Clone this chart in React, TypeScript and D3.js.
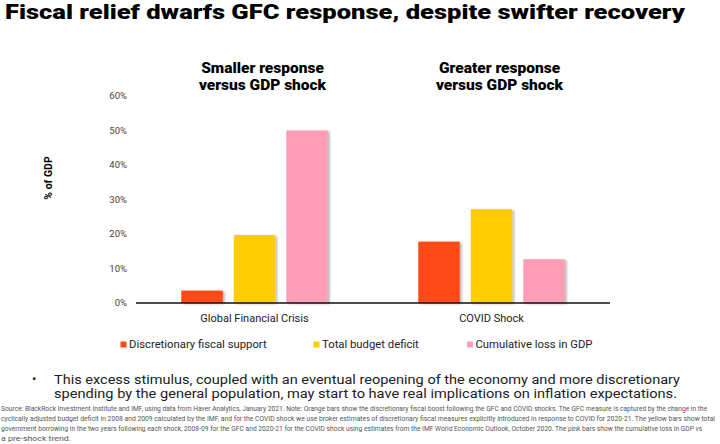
import { useEffect, useRef } from "react";
import * as d3 from "d3";

const categories = ["Global Financial Crisis", "COVID Shock"];
const seriesNames = ["Discretionary fiscal support", "Total budget deficit", "Cumulative loss in GDP"];
const discretionary = [3.6, 17.8];
const budgetDeficit = [19.7, 27.2];
const gdpLoss = [50, 12.7];
const yTicks = [0, 10, 20, 30, 40, 50, 60];
const panelTitles = [
  ["Smaller response", "versus GDP shock"],
  ["Greater response", "versus GDP shock"],
];
const colors = ["#FF4A14", "#FFCC00", "#FF9DB6"];

const footnote = [
  "Source: BlackRock Investment Institute and IMF, using data from Haver Analytics, January 2021. Note: Orange bars show the discretionary fiscal boost following the GFC and COVID shocks. The GFC measure is captured by the change in the",
  "cyclically adjusted budget deficit in 2008 and 2009 calculated by the IMF, and for the COVID shock we use broker estimates of discretionary fiscal measures explicitly introduced in response to COVID for 2020-21. The yellow bars show total",
  "government borrowing in the two years following each shock, 2008-09 for the GFC and 2020-21 for the COVID shock using estimates from the IMF World Economic Outlook, October 2020. The pink bars show the cumulative loss in GDP vs",
  "a pre-shock trend.",
];
const footnoteWidths = [706, 714, 700, 70];

export default function App() {
  const footRef = useRef<SVGGElement | null>(null);

  useEffect(() => {
    if (!footRef.current) return;
    // squeeze footnote lines horizontally so they fit like the condensed original
    d3.select(footRef.current)
      .selectAll<SVGTextElement, unknown>("text")
      .each(function (_, i) {
        const len = this.getComputedTextLength();
        const k = len > 0 ? footnoteWidths[i] / len : 1;
        d3.select(this).attr("transform", `translate(1,${410.5 + i * 10}) scale(${k},1)`);
      });
  }, []);

  const values = [discretionary, budgetDeficit, gdpLoss];
  const x0 = d3.scaleBand<string>().domain(categories).range([136, 610]).padding(0);
  const x1 = d3
    .scaleBand<number>()
    .domain([0, 1, 2])
    .range([0, x0.bandwidth()])
    .paddingInner(0.21)
    .paddingOuter(0.862);
  const y = d3.scaleLinear().domain([0, 60]).range([303, 96]);

  // legend positions
  const legendX = [120.5, 313.5, 467];
  const font = "Roboto, 'Noto Sans', sans-serif";

  return (
    <svg
      width={720}
      height={444}
      style={{ position: "absolute", left: 0, top: 0, background: "#fff" }}
      fontFamily={font}
    >
      <defs>
        <filter id="shadow" x="-20%" y="-20%" width="150%" height="140%">
          <feDropShadow dx="2" dy="1" stdDeviation="1.2" floodColor="#000" floodOpacity="0.28" />
        </filter>
      </defs>

      <text x={5} y={18.5} fontSize={21} fontWeight={900} fill="#000" textLength={680} lengthAdjust="spacingAndGlyphs">
        Fiscal relief dwarfs GFC response, despite swifter recovery
      </text>

      {panelTitles.map((lines, i) => (
        <text
          key={i}
          x={(x0(categories[i]) ?? 0) + x0.bandwidth() / 2 + 8}
          textAnchor="middle"
          fontSize={15.5}
          fontWeight={900}
          fill="#000"
        >
          {lines.map((l, j) => (
            <tspan key={j} x={(x0(categories[i]) ?? 0) + x0.bandwidth() / 2 + 8} y={73 + j * 17}>
              {l}
            </tspan>
          ))}
        </text>
      ))}

      {yTicks.map((t) => (
        <text key={t} x={127} y={y(t)} dy="0.35em" textAnchor="end" fontSize={9.5} fill="#444">
          {`${t}%`}
        </text>
      ))}

      <text
        transform={`translate(52,${178}) rotate(-90)`}
        textAnchor="middle"
        fontSize={10.5}
        fontWeight={700}
        fill="#000"
      >
        % of GDP
      </text>

      {categories.map((c, ci) => (
        <g key={c} transform={`translate(${x0(c)},0)`}>
          {values.map((s, si) => (
            <rect
              key={si}
              x={x1(si)}
              y={y(s[ci])}
              width={x1.bandwidth()}
              height={y(0) - y(s[ci])}
              fill={colors[si]}
              filter="url(#shadow)"
            />
          ))}
          <text x={x0.bandwidth() / 2} y={322} textAnchor="middle" fontSize={11} fill="#222">
            {c}
          </text>
        </g>
      ))}

      <line x1={136} x2={610} y1={y(0)} y2={y(0)} stroke="#111" strokeWidth={1.3} />

      {seriesNames.map((n, i) => (
        <g key={n}>
          <rect x={legendX[i]} y={341.5} width={6} height={6} fill={colors[i]} />
          <text x={legendX[i] + 8.5} y={347.5} fontSize={11.3} fill="#222">
            {n}
          </text>
        </g>
      ))}

      <text x={32} y={383} fontSize={13} fill="#222">•</text>
      <text x={54} y={383.5} fontSize={13.2} fill="#222" textLength={626} lengthAdjust="spacingAndGlyphs">
        This excess stimulus, coupled with an eventual reopening of the economy and more discretionary
      </text>
      <text x={54} y={398} fontSize={13.2} fill="#222" textLength={623} lengthAdjust="spacingAndGlyphs">
        spending by the general population, may start to have real implications on inflation expectations.
      </text>

      <g ref={footRef}>
        {footnote.map((l, i) => (
          <text key={i} transform={`translate(1,${410.5 + i * 10}) scale(0.78,1)`} fontSize={7.6} fill="#555">
            {l}
          </text>
        ))}
      </g>
    </svg>
  );
}
